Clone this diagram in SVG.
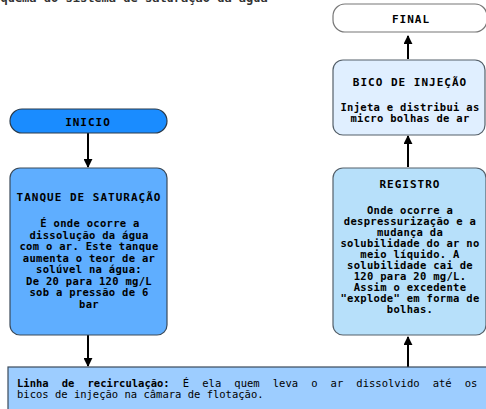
<svg xmlns="http://www.w3.org/2000/svg" width="486" height="409" viewBox="0 0 486 409">
<style>
text{font-family:"DejaVu Sans Mono","Liberation Mono",monospace;fill:#000;}
.b{font-size:10.5px;font-weight:bold;text-anchor:middle;letter-spacing:0.3px;}
.t{font-size:11px;font-weight:bold;text-anchor:middle;letter-spacing:1px;}
.ln{stroke:#000;stroke-width:2;fill:none;}
</style>
<defs>
<marker id="ah" viewBox="0 0 10 10" refX="9" refY="5" markerWidth="4.5" markerHeight="4.5" orient="auto" markerUnits="strokeWidth">
<path d="M0,0 L10,5 L0,10 z" fill="#000"/>
</marker>
</defs>
<rect width="486" height="409" fill="#fff"/>
<text x="-14" y="1.5" style="font-size:12px;font-weight:bold;fill:#333">Esquema do sistema de saturação da água</text>

<g id="connectors">
<line class="ln" x1="88" y1="133" x2="88" y2="167" marker-end="url(#ah)"/>
<line class="ln" x1="88" y1="335" x2="88" y2="366" marker-end="url(#ah)"/>
<line class="ln" x1="408" y1="367" x2="408" y2="337" marker-end="url(#ah)"/>
<line class="ln" x1="408" y1="167" x2="408" y2="136" marker-end="url(#ah)"/>
<line class="ln" x1="408" y1="59" x2="408" y2="36" marker-end="url(#ah)"/>
</g>

<g id="inicio">
<rect x="10" y="109" width="157" height="24" rx="12" fill="#1a8cff" stroke="#2a3a4a" stroke-width="1.2"/>
<text class="t" x="88" y="126">INICIO</text>
</g>

<g id="tanque">
<rect x="10" y="168" width="157" height="167" rx="10" fill="#5faeff" stroke="#3a4a5a" stroke-width="1.2"/>
<text class="t" x="89" y="201">TANQUE DE SATURAÇÃO</text>
<text class="b" x="90" y="227">É onde ocorre a</text>
<text class="b" x="89" y="238.5">dissolução da água</text>
<text class="b" x="89" y="250">com o ar. Este tanque</text>
<text class="b" x="89" y="261.5">aumenta o teor de ar</text>
<text class="b" x="89" y="273">solúvel na água:</text>
<text class="b" x="89" y="284.5">De 20 para 120 mg/L</text>
<text class="b" x="89" y="296">sob a pressão de 6</text>
<text class="b" x="89" y="307.5">bar</text>
</g>

<g id="linha">
<rect x="8" y="367" width="490" height="50" fill="#9dcdff" stroke="#3a4a5a" stroke-width="1.2"/>
<text x="17" y="387" style="font-size:10.5px;font-weight:bold" word-spacing="6.8"><tspan>Linha de recirculação:</tspan><tspan font-weight="normal"> É ela quem leva o ar dissolvido até os</tspan></text>
<text x="17" y="398" style="font-size:10.5px;">bicos de injeção na câmara de flotação.</text>
</g>

<g id="registro">
<rect x="333" y="168" width="153" height="167" rx="10" fill="#b7e0fa" stroke="#55606a" stroke-width="1.2"/>
<text class="t" x="410" y="188">REGISTRO</text>
<text class="b" x="410" y="214">Onde ocorre a</text>
<text class="b" x="410" y="225">despressurização e a</text>
<text class="b" x="410" y="236">mudança da</text>
<text class="b" x="410" y="247">solubilidade do ar no</text>
<text class="b" x="410" y="258">meio líquido. A</text>
<text class="b" x="410" y="269">solubilidade cai de</text>
<text class="b" x="410" y="280">120 para 20 mg/L.</text>
<text class="b" x="410" y="291">Assim o excedente</text>
<text class="b" x="410" y="302">"explode" em forma de</text>
<text class="b" x="410" y="313">bolhas.</text>
</g>

<g id="bico">
<rect x="333" y="60" width="152" height="75" rx="10" fill="#e0efff" stroke="#55606a" stroke-width="1.2"/>
<text class="t" x="410" y="86">BICO DE INJEÇÃO</text>
<text class="b" x="410" y="111">Injeta e distribui as</text>
<text class="b" x="410" y="122">micro bolhas de ar</text>
</g>

<g id="final">
<rect x="333" y="4" width="154" height="28" rx="12" fill="#fff" stroke="#777" stroke-width="1.2"/>
<text class="t" x="411" y="23">FINAL</text>
</g>
</svg>
